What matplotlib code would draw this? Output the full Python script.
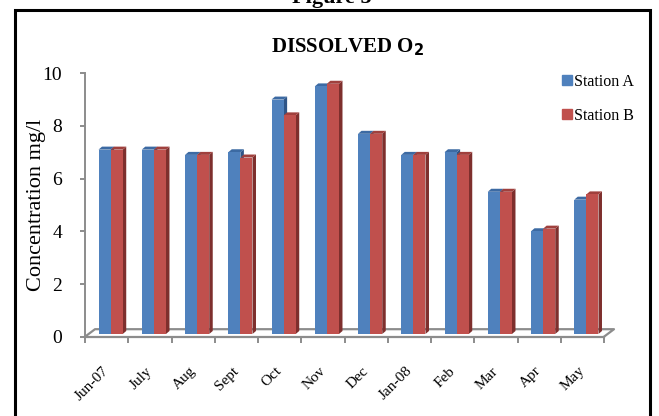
import numpy as np
import matplotlib
matplotlib.use('Agg')
import matplotlib.pyplot as plt
from matplotlib.patches import Patch, Rectangle
from matplotlib.transforms import ScaledTranslation

plt.rcParams['font.family'] = ['Liberation Serif', 'DejaVu Serif']

# datos de oxigeno disuelto por mes
meses = ['Jun-07', 'July', 'Aug', 'Sept', 'Oct', 'Nov', 'Dec', 'Jan-08', 'Feb', 'Mar', 'Apr', 'May']
estacion_a = [7.0, 7.0, 6.8, 6.9, 8.9, 9.4, 7.6, 6.8, 6.9, 5.4, 3.9, 5.1]
estacion_b = [7.0, 7.0, 6.8, 6.7, 8.3, 9.5, 7.6, 6.8, 6.8, 5.4, 4.0, 5.3]
series = ['Station A', 'Station B']

# colores tipo excel: frente, lado, tapa
azul = ('#4F81BD', '#2F5587', '#3C6AA3')
rojo = ('#C0504D', '#7E2F2D', '#A0403D')
gris = '#8C8C8C'

fig = plt.figure(figsize=(6.59, 4.16), dpi=100)
ax = fig.add_axes([85/659, 79.3/416, 519/659, 263.4/416])
ax.set_xlim(-0.5, 11.5)
ax.set_ylim(0, 10)

# desplazamiento de las barras hacia el fondo del piso
desp = ax.transData + ScaledTranslation(0.04, 0.027, fig.dpi_scale_trans)

ancho = 0.28
dx, dy = 0.081, 0.114   # profundidad de cada barra
x = np.arange(len(meses))

def barra3d(xi, v, colores):
    x0, x1 = xi - ancho/2, xi + ancho/2
    ax.fill([x1, x1, x1+dx, x1+dx], [0, v, v+dy, dy], color=colores[1],
            transform=desp, clip_on=False, zorder=3, lw=0)
    ax.fill([x0, x1, x1+dx, x0+dx], [v, v, v+dy, v+dy], color=colores[2],
            transform=desp, clip_on=False, zorder=3, lw=0)
    b = ax.bar(xi, v, width=ancho, color=colores[0], zorder=3, lw=0)
    b[0].set_transform(desp)
    b[0].set_clip_on(False)

for i in range(len(meses)):
    barra3d(x[i] - ancho/2, estacion_a[i], azul)
    barra3d(x[i] + ancho/2, estacion_b[i], rojo)

# piso del grafico
fx, fy = 0.231, 0.285
ax.plot([-0.5, -0.5+fx, 11.5+fx, 11.5], [0, fy, fy, 0], color=gris, lw=1.6,
        clip_on=False, zorder=2)

# ejes
for s in ['top', 'right']:
    ax.spines[s].set_visible(False)
ax.spines['left'].set_color(gris)
ax.spines['bottom'].set_color(gris)
ax.spines['left'].set_linewidth(1.4)
ax.spines['bottom'].set_linewidth(1.6)

ax.set_yticks(np.arange(0, 11, 2))
ax.tick_params(axis='y', length=3.6, width=1.4, color=gris, labelsize=14, pad=13)

ax.set_xticks(x)
ax.set_xticklabels(meses, rotation=45, ha='right', va='top', fontsize=11)
ax.set_xticks(np.arange(-0.5, 12, 1), minor=True)
ax.tick_params(axis='x', which='major', length=0, pad=20)
ax.tick_params(axis='x', which='minor', length=4, width=1.4, color=gris)
for lab in ax.get_xticklabels():
    lab.set_transform(lab.get_transform() + ScaledTranslation(0.05, 0, fig.dpi_scale_trans))

fig.text(37/659, 211/416, 'Concentration mg/l', rotation=90, fontsize=16,
         ha='center', va='center')

fig.text(348/659, (416-52)/416, r'DISSOLVED O$_\mathbf{2}$', fontsize=15,
         fontweight='bold', ha='center', va='baseline')

fig.text(332/659, (416-3)/416, 'Figure 5', fontsize=16, fontweight='bold',
         ha='center', va='baseline')

# leyenda
manijas = [Patch(color=azul[0]), Patch(color=rojo[0])]
fig.legend(manijas, series, loc='upper left', bbox_to_anchor=(562/659, (416-74)/416),
           frameon=False, fontsize=11.5, handlelength=0.6, handleheight=0.6,
           handletextpad=0.15, labelspacing=1.1, borderpad=0, borderaxespad=0)

# marco negro
fig.add_artist(Rectangle((14.5/659, -0.05), (650-14.5)/659, (416-9.5)/416 + 0.05,
                         transform=fig.transFigure, fill=False, ec='black', lw=2.2,
                         clip_on=False))

plt.savefig('out.png', dpi=100)
